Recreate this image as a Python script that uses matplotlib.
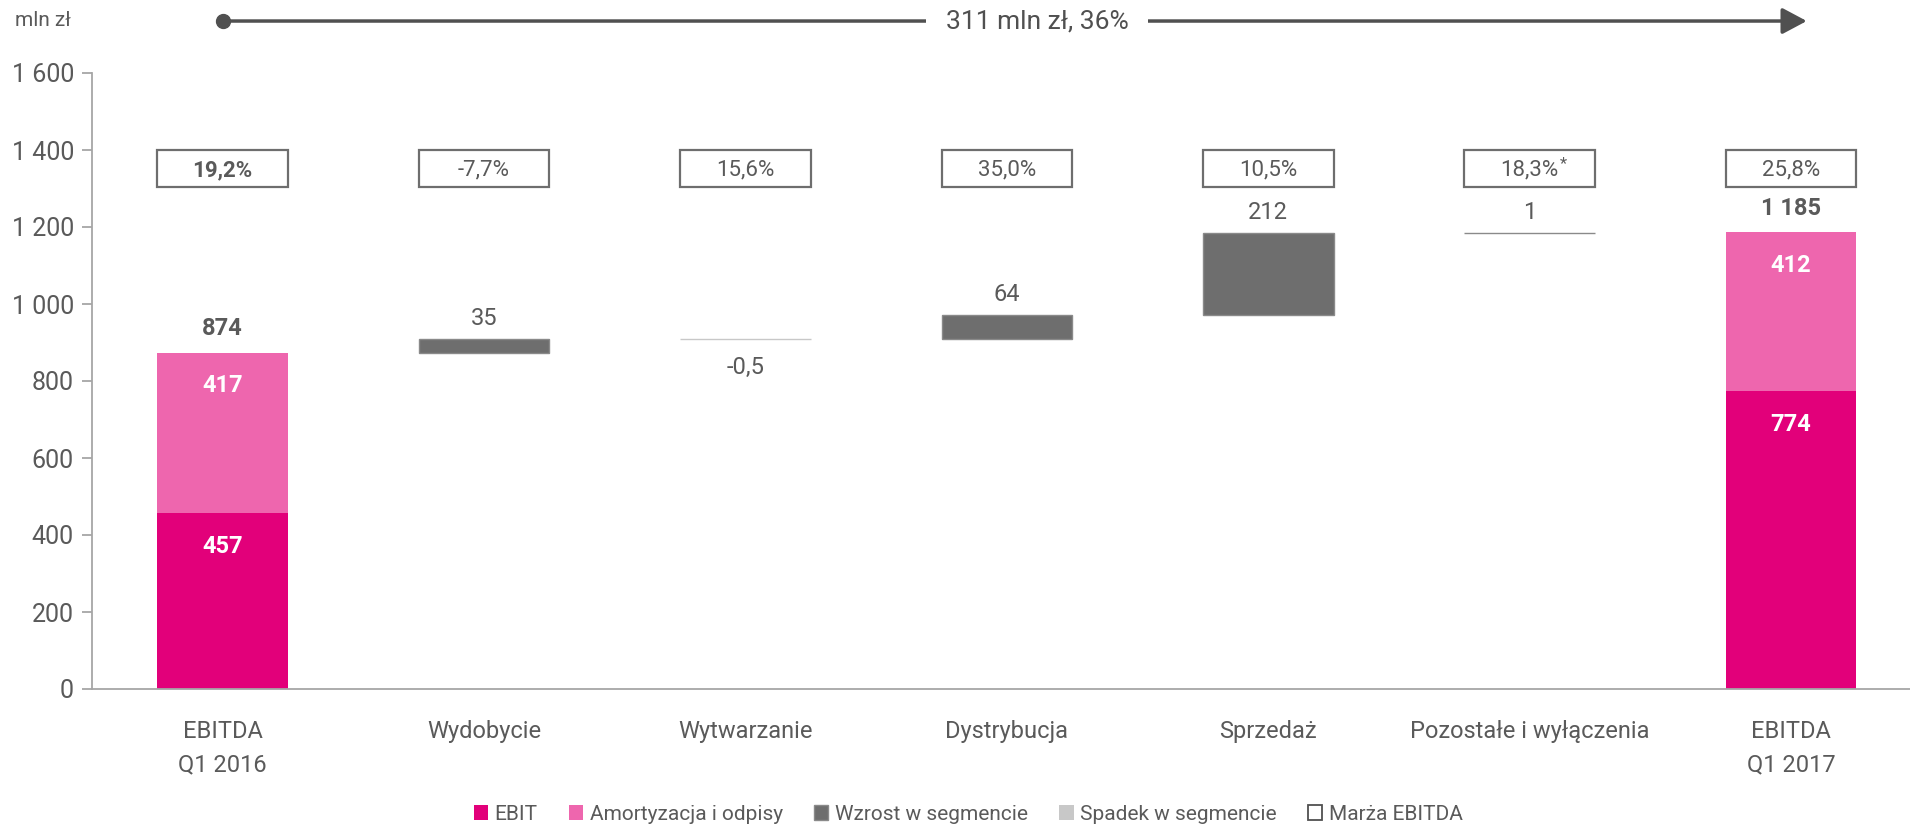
import matplotlib
matplotlib.use("Agg")
import matplotlib.pyplot as plt
from matplotlib.patches import Patch, Rectangle
from matplotlib.ticker import FuncFormatter

plt.rcParams['font.family'] = ['Roboto', 'DejaVu Sans']

categories = ["EBITDA\nQ1 2016", "Wydobycie", "Wytwarzanie", "Dystrybucja",
              "Sprzedaż", "Pozostałe i wyłączenia", "EBITDA\nQ1 2017"]
ebit = [457, 774]
amort = [417, 412]
totals = [874, 1185]
deltas = [35, -0.5, 64, 212, 1]
delta_labels = ["35", "-0,5", "64", "212", "1"]
margins = ["19,2%", "-7,7%", "15,6%", "35,0%", "10,5%", "18,3%", "25,8%"]
total_change = "311 mln zł, 36%"

c_ebit = '#E2007A'
c_amort = '#EE66AE'
c_up = '#6E6E6E'
c_down = '#C8C8C8'
c_text = '#5A5A5A'

fig = plt.figure(figsize=(19.1, 8.26), dpi=100)
ax = fig.add_axes([92/1910, 1-689/826, 1818/1910, 616/826])
ax.set_xlim(-0.5, 6.455)
ax.set_ylim(0, 1600)

w = 0.5
ends = [0, 6]
# start / end bars, stacked
ax.bar(ends, ebit, width=w, color=c_ebit)
ax.bar(ends, amort, width=w, bottom=ebit, color=c_amort)

# waterfall steps
base = totals[0]
for i, d in enumerate(deltas):
    x = i + 1
    if d >= 0:
        ax.bar(x, d, width=w, bottom=base, color=c_up, edgecolor='#8A8A8A', linewidth=1)
        ax.annotate(delta_labels[i], (x, base + d), xytext=(0, 9), textcoords='offset pixels',
                    ha='center', va='bottom', fontsize=17, color=c_text)
    else:
        ax.bar(x, d, width=w, bottom=base, color=c_down, edgecolor=c_down, linewidth=1)
        ax.annotate(delta_labels[i], (x, base + d), xytext=(0, -28), textcoords='offset pixels',
                    ha='center', va='center', fontsize=17, color=c_text)
    base += d

# labels on start / end bars
for j, x in enumerate(ends):
    ax.annotate(str(ebit[j]), (x, ebit[j]), xytext=(0, -33), textcoords='offset pixels',
                ha='center', va='center', fontsize=17, color='white', fontweight='bold')
    ax.annotate(str(amort[j]), (x, totals[j]), xytext=(0, -33), textcoords='offset pixels',
                ha='center', va='center', fontsize=17, color='white', fontweight='bold')
    ax.annotate(f"{totals[j]:,}".replace(",", " "), (x, totals[j]), xytext=(0, 13),
                textcoords='offset pixels', ha='center', va='bottom', fontsize=17,
                color=c_text, fontweight='bold')

# margin boxes
for i, m in enumerate(margins):
    ax.add_patch(Rectangle((i - w/2, 1303), w, 97, facecolor='white', edgecolor='#6E6E6E',
                           linewidth=1.6, clip_on=False))
    bold = 'bold' if i == 0 else 'normal'
    t = ax.text(i, 1347, m, ha='center', va='center', fontsize=16, color=c_text, fontweight=bold)
    if i == 5:
        ax.annotate("*", xy=(1, 1), xycoords=t, xytext=(1, -4), textcoords='offset pixels',
                    ha='left', va='center', fontsize=12, color=c_text)

# top arrow
ax.annotate("", xy=(6.06, 1735), xytext=(0, 1735), annotation_clip=False,
            arrowprops=dict(arrowstyle='-|>,head_length=1.5,head_width=0.8',
                            color='#505050', lw=2.5, shrinkA=0, shrinkB=0))
ax.plot([0], [1735], 'o', color='#505050', markersize=10, clip_on=False)
ax.text(3.115, 1735, total_change, ha='center', va='center', fontsize=19, color='#505050',
        bbox=dict(facecolor='white', edgecolor='none', pad=14))

# axes styling
for s in ['top', 'right']:
    ax.spines[s].set_visible(False)
ax.spines['left'].set_color('#A6A6A6')
ax.spines['bottom'].set_color('#A6A6A6')
ax.spines['left'].set_linewidth(1.3)
ax.spines['bottom'].set_linewidth(1.3)
ax.set_yticks(range(0, 1601, 200))
ax.yaxis.set_major_formatter(FuncFormatter(lambda v, p: f"{int(v):,}".replace(",", " ")))
ax.tick_params(axis='y', colors='#A6A6A6', labelcolor=c_text, labelsize=18, length=7, width=1.3, pad=6)
ax.set_xticks(range(len(categories)))
ax.set_xticklabels(categories, fontsize=17, color=c_text, linespacing=1.6)
ax.tick_params(axis='x', length=0, pad=22)

fig.text(43/1910, 1-21/826, "mln zł", ha='center', va='center', fontsize=15, color=c_text)

handles = [Patch(facecolor=c_ebit), Patch(facecolor=c_amort),
           Patch(facecolor=c_up, edgecolor='#8A8A8A'), Patch(facecolor=c_down),
           Patch(facecolor='white', edgecolor='#505050', linewidth=1.3)]
names = ["EBIT", "Amortyzacja i odpisy", "Wzrost w segmencie", "Spadek w segmencie", "Marża EBITDA"]
leg = fig.legend(handles, names, loc='center', bbox_to_anchor=(968/1910, 1-814/826), ncol=5,
                 frameon=False, fontsize=15, handlelength=0.7, handleheight=0.7,
                 handletextpad=0.3, columnspacing=1.5)
for t in leg.get_texts():
    t.set_color(c_text)

fig.savefig("out.png", dpi=100)
